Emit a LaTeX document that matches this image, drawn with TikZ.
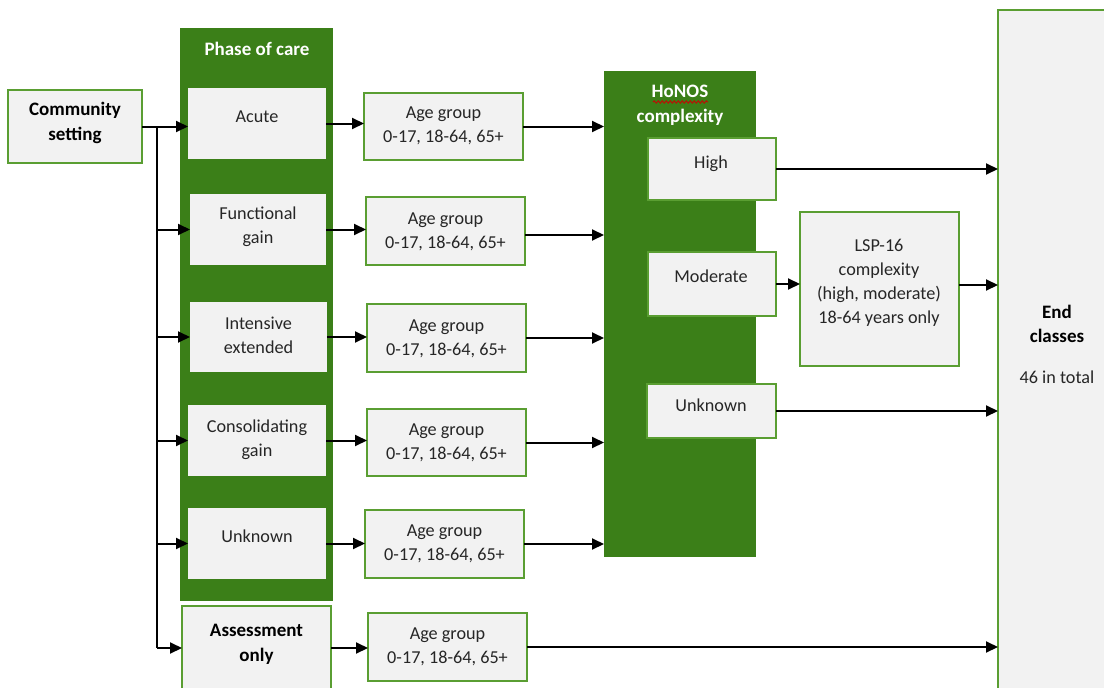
\documentclass[tikz,border=0pt]{standalone}
\usepackage{fontspec}
\setmainfont{Carlito}
\usetikzlibrary{arrows.meta,decorations.pathmorphing}
\definecolor{dkgreen}{HTML}{3B7F18}
\definecolor{bdgreen}{HTML}{5A9E32}
\definecolor{boxfill}{HTML}{F2F2F2}
\newcommand\mkbox[7]{\node[#1,minimum width=#4pt,minimum height=#5pt] (#2) at (#6,#7) {};}
\begin{document}
\begin{tikzpicture}[x=1pt,y=-1pt,
 box/.style={draw=bdgreen,line width=1.8pt,fill=boxfill,inner sep=0pt,outer sep=0pt},
 ibox/.style={fill=boxfill,inner sep=0pt,outer sep=0pt},
 panel/.style={fill=dkgreen,inner sep=0pt,outer sep=0pt},
 txt/.style={inner sep=0pt,align=center,font=\fontsize{18.2}{24}\selectfont,text=black!85},
 btxt/.style={txt,font=\fontsize{19}{24.5}\selectfont\bfseries,text=black},
 wtxt/.style={btxt,text=white},
 arr/.style={line width=2pt,-{Triangle[length=12pt,width=11pt]}},
 ln/.style={line width=2pt}]
\fill[white] (0,0) rectangle (1104,688);
\useasboundingbox (0,0) rectangle (1104,688);
% panels
\mkbox{panel}{phase}{}{153}{573}{256.5}{314.5}
\mkbox{panel}{honos}{}{152}{486}{680}{314}
% boxes
\mkbox{box}{comm}{}{134}{73}{75}{126.5}
\mkbox{ibox}{acute}{}{138}{71}{257}{123.5}
\mkbox{ibox}{func}{}{136}{71}{258}{229.5}
\mkbox{ibox}{inten}{}{137}{70}{258.5}{337}
\mkbox{ibox}{cons}{}{138}{71}{257}{440.5}
\mkbox{ibox}{punk}{}{138}{71}{257}{543.5}
\mkbox{box}{assess}{}{149}{84}{256.5}{648}
\mkbox{box}{age1}{}{159}{67}{443.5}{126.5}
\mkbox{box}{age2}{}{159}{68}{445.5}{231}
\mkbox{box}{age3}{}{159}{68}{446.5}{338}
\mkbox{box}{age4}{}{159}{67}{446.5}{442.5}
\mkbox{box}{age5}{}{159}{68}{444.5}{544}
\mkbox{box}{age6}{}{159}{68}{447.5}{647}
\mkbox{box}{high}{}{128}{62}{712}{169}
\mkbox{box}{mod}{}{128}{64}{712}{284}
\mkbox{box}{hunk}{}{129}{54}{711.5}{411}
\mkbox{box}{lsp}{}{159}{154}{879.5}{289}
\mkbox{box}{end}{}{122}{710}{1059}{365}
% texts
\node[btxt] (tcomm) at (75,123) {Community\\setting};
\node[wtxt] (tphase) at (257,49) {Phase of care};
\node[txt] (tacute) at (257,116.5) {Acute};
\node[txt] (tfunc) at (258,227) {Functional\\gain};
\node[txt] (tinten) at (258.5,335) {Intensive\\extended};
\node[txt] (tcons) at (257,440) {Consolidating\\gain};
\node[txt] (tpunk) at (257,536.5) {Unknown};
\node[btxt] (tassess) at (256.5,644.5) {Assessment\\only};
\node[txt] (tage1) at (443.5,125.5) {Age group\\0-17, 18-64, 65+};
\node[txt] (tage2) at (445.5,231.5) {Age group\\0-17, 18-64, 65+};
\node[txt] (tage3) at (446.5,338.5) {Age group\\0-17, 18-64, 65+};
\node[txt] (tage4) at (446.5,442.5) {Age group\\0-17, 18-64, 65+};
\node[txt] (tage5) at (444.5,543.5) {Age group\\0-17, 18-64, 65+};
\node[txt] (tage6) at (447.5,647) {Age group\\0-17, 18-64, 65+};
\node[wtxt] (thonos) at (680,105.5) {HoNOS\\complexity};
\draw[red!80!black,line width=0.8pt,decorate,decoration={snake,amplitude=1.2pt,segment length=4pt}] (653,102) -- (708,102);
\node[txt] (thigh) at (711,163.5) {High};
\node[txt] (tmod) at (711,276.5) {Moderate};
\node[txt] (thunk) at (711,405.5) {Unknown};
\node[txt] (tlsp) at (879,282.5) {LSP-16\\complexity\\(high, moderate)\\18-64 years only};
\node[btxt] (tend) at (1057,324) {End\\classes};
\node[txt] (ttotal) at (1057,377.5) {46 in total};
% connectors
\coordinate (j) at (157,126.5);
\draw[arr] (comm.east) -- (comm.east -| acute.west);
\draw[ln] (j) -- (j |- assess.west);
\draw[arr] (j |- func.west) -- (func.west);
\draw[arr] (j |- inten.west) -- (inten.west);
\draw[arr] (j |- cons.west) -- (cons.west);
\draw[arr] (j |- punk.west) -- (punk.west);
\draw[arr] (j |- assess.west) -- (assess.west);
\draw[arr] (acute.east) -- (acute.east -| age1.west);
\draw[arr] (func.east) -- (func.east -| age2.west);
\draw[arr] (inten.east) -- (inten.east -| age3.west);
\draw[arr] (cons.east) -- (cons.east -| age4.west);
\draw[arr] (punk.east) -- (punk.east -| age5.west);
\draw[arr] (assess.east) -- (assess.east -| age6.west);
\draw[arr] (age1.east) -- (age1.east -| honos.west);
\draw[arr] ([yshift=-4pt]age2.east) -- ([yshift=-4pt]age2.east -| honos.west);
\draw[arr] (age3.east) -- (age3.east -| honos.west);
\draw[arr] (age4.east) -- (age4.east -| honos.west);
\draw[arr] (age5.east) -- (age5.east -| honos.west);
\draw[arr] (age6.east) -- (age6.east -| end.west);
\draw[arr] (high.east) -- (high.east -| end.west);
\draw[arr] (mod.east) -- (mod.east -| lsp.west);
\draw[arr] ([yshift=4pt]lsp.east) -- ([yshift=4pt]lsp.east -| end.west);
\draw[arr] (hunk.east) -- (hunk.east -| end.west);
\end{tikzpicture}
\end{document}
